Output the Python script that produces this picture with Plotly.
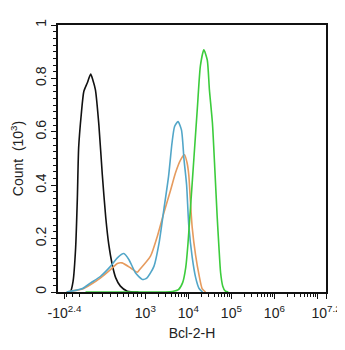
import numpy as np
import plotly.graph_objects as go

# ---------------- data (x in display units of the biexponential axis, y in 10^3 counts)
black_x = [0.24, 0.29, 0.35, 0.41, 0.45, 0.48, 0.54, 0.60, 0.68, 0.76, 0.81, 0.87, 0.95,
           1.03, 1.11, 1.18, 1.26, 1.34, 1.45, 1.61, 1.87]
black_y = [0.0, 0.002, 0.04, 0.166, 0.353, 0.54, 0.664, 0.751, 0.783, 0.816, 0.794, 0.757,
           0.626, 0.439, 0.279, 0.178, 0.103, 0.054, 0.022, 0.003, 0.0]

blue_x = [0.20, 0.41, 0.57, 0.76, 0.99, 1.22, 1.38, 1.53, 1.65, 1.80, 1.96, 2.07, 2.23, 2.35,
          2.46, 2.57, 2.65, 2.71, 2.79, 2.87, 2.93, 2.99, 3.04, 3.12, 3.20, 3.28, 3.36]
blue_y = [0.0, 0.006, 0.013, 0.034, 0.059, 0.096, 0.128, 0.144, 0.121, 0.072, 0.047, 0.053,
          0.096, 0.184, 0.308, 0.433, 0.558, 0.620, 0.638, 0.607, 0.495, 0.40, 0.25, 0.13,
          0.054, 0.013, 0.0]

orange_x = [0.20, 0.41, 0.57, 0.76, 0.99, 1.22, 1.38, 1.49, 1.69, 1.84, 1.90, 2.15, 2.31,
            2.46, 2.62, 2.73, 2.85, 2.94, 3.00, 3.04, 3.08, 3.12, 3.20, 3.28, 3.35, 3.43]
orange_y = [0.0, 0.006, 0.011, 0.028, 0.053, 0.084, 0.107, 0.109, 0.090, 0.074, 0.084,
            0.134, 0.209, 0.296, 0.383, 0.446, 0.495, 0.514, 0.484, 0.439, 0.335, 0.241,
            0.136, 0.062, 0.013, 0.0]

green_x = [0.64, 2.50, 2.66, 2.80, 2.90, 2.97, 3.02, 3.08, 3.16, 3.24, 3.31, 3.39, 3.47,
           3.52, 3.59, 3.65, 3.70, 3.74, 3.78, 3.83, 3.89, 3.96]
green_y = [0.0, 0.0, 0.002, 0.009, 0.036, 0.092, 0.178, 0.316, 0.503, 0.69, 0.847, 0.907,
           0.869, 0.757, 0.633, 0.446, 0.283, 0.171, 0.072, 0.022, 0.003, 0.0]

x_tick_labels = ["-10<sup>2.4</sup>", "10<sup>3</sup>", "10<sup>4</sup>", "10<sup>5</sup>",
                 "10<sup>6</sup>", "", "10<sup>7.2</sup>"]
x_tick_values = [-10 ** 2.4, 1e3, 1e4, 1e5, 1e6, 1e7, 10 ** 7.2]
y_tick_values = [0, 0.2, 0.4, 0.6, 0.8, 1.0]
y_tick_labels = ["0", "0.2", "0.4", "0.6", "0.8", "1"]


# ---------------- biexponential-like display transform for axis ticks
def disp(v):
    v = float(v)
    if v >= 1000:
        return np.log10(v) - 0.97
    norm = np.log10(1 + 1000 / 300)
    if v >= 0:
        return 0.5 + 1.53 * np.log10(1 + v / 300) / norm
    return 0.5 - 0.845 * np.log10(1 - v / 300) / norm


minor_vals = []
for d in range(3, 7):
    for k in range(2, 10):
        minor_vals.append(disp(k * 10 ** d))
for v in [-200, -100, 0, 100, 200, 300, 400, 500, 600, 700, 800, 900]:
    minor_vals.append(disp(v))

major_pos = [disp(v) for v in x_tick_values]

font_family = "Liberation Sans, Arial, sans-serif"
fig = go.Figure()
series = [
    (black_x, black_y, "#111111"),
    (orange_x, orange_y, "#e69b5e"),
    (blue_x, blue_y, "#52a6c8"),
    (green_x, green_y, "#3ccc3c"),
]
for xs, ys, col in series:
    fig.add_trace(go.Scatter(x=xs, y=ys, mode="lines",
                             line=dict(color=col, width=1.6, shape="spline", smoothing=0.6),
                             showlegend=False, hoverinfo="skip"))

# the page body adds an 8px offset, so the figure is sized to fit the window
fig.update_layout(
    width=337, height=342,
    margin=dict(l=49.5, r=19, t=17, b=57.5),
    paper_bgcolor="white", plot_bgcolor="white",
    font=dict(family=font_family, size=14, color="#222222"),
    xaxis=dict(
        range=[0, disp(10 ** 7.2)], automargin=False,
        tickmode="array", tickvals=major_pos, ticktext=x_tick_labels,
        ticks="outside", ticklen=5, tickwidth=1.2, tickcolor="#111",
        showline=True, linecolor="#111", linewidth=1.5, mirror=True,
        showgrid=False, zeroline=False,
        minor=dict(tickmode="array", tickvals=minor_vals, ticks="outside",
                   ticklen=3, tickwidth=1, tickcolor="#111", showgrid=False),
        title=dict(text="Bcl-2-H", font=dict(size=14), standoff=9),
        tickfont=dict(size=14), ticklabelstandoff=2,
    ),
    yaxis=dict(
        range=[0, 1], automargin=False,
        tickmode="array", tickvals=y_tick_values, ticktext=y_tick_labels,
        tickangle=-90,
        ticks="outside", ticklen=5, tickwidth=1.2, tickcolor="#111",
        showline=True, linecolor="#111", linewidth=1.5, mirror=True,
        showgrid=False, zeroline=False,
        minor=dict(dtick=0.025, ticks="outside", ticklen=3, tickwidth=1,
                   tickcolor="#111", showgrid=False),
        title=dict(text="Count  (10<sup>3</sup>)", font=dict(size=14), standoff=10),
        tickfont=dict(size=14),
    ),
)

fig.write_html("out.html")
